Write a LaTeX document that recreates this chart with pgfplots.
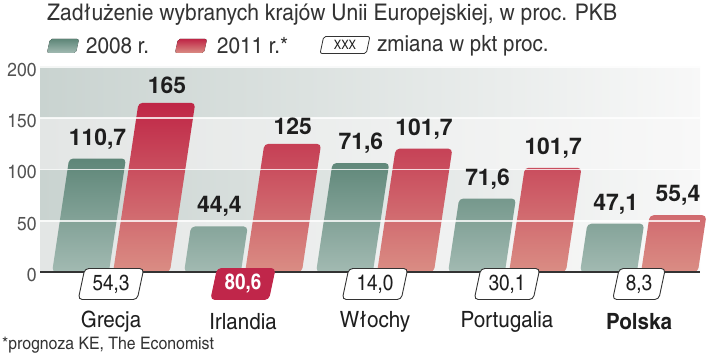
\documentclass[border=0pt]{standalone}
\usepackage{fontspec}
\setmainfont{texgyreheroscn}[Extension=.otf, UprightFont=*-regular, BoldFont=*-bold, FakeStretch=1.12]
\newfontfamily\hvc{texgyreheroscn}[Extension=.otf, UprightFont=*-regular, BoldFont=*-bold, FakeStretch=1.05]
\newfontfamily\hvb{texgyreheros}[Extension=.otf, UprightFont=*-bold, BoldFont=*-bold]
\usepackage{pgfplots}
\usepackage{pgfplotstable}
\pgfplotsset{compat=1.18}
\usetikzlibrary{shapes.geometric}
\definecolor{gtop}{HTML}{5E8678}
\definecolor{gbot}{HTML}{A2BAB2}
\definecolor{rtop}{HTML}{BF2646}
\definecolor{rbot}{HTML}{DA8D84}
\definecolor{band}{HTML}{C9D3D0}
\definecolor{bandl}{HTML}{E3E6E5}
\definecolor{bandr}{HTML}{F8F8F8}
\definecolor{txt}{HTML}{333333}
\definecolor{lab}{HTML}{1E1E1E}
\definecolor{redbox}{HTML}{C0264A}

\pgfplotstableread{
x y lab
0 110.7 110,7
1 44.4 44,4
2 106.3 71,6
3 71.6 71,6
4 47.1 47,1
}\greendata
\pgfplotstableread{
x y lab
0 165 165
1 125 125
2 120.3 101,7
3 101.7 101,7
4 55.4 55,4
}\reddata
\pgfplotstableread{
x y lab
0 0 54,3
2 0 14,0
3 0 30,1
4 0 8,3
}\chgdata
\pgfplotstableread{
x y lab
1 0 80,6
}\chgred

\begin{document}
\begin{tikzpicture}
\useasboundingbox (-40bp,-86bp) rectangle (681bp,272bp);
\begin{axis}[
  at={(0,0)}, anchor=south west,
  scale only axis, width=660bp, height=205bp,
  xmin=-0.538, xmax=4.462, ymin=0, ymax=200,
  axis on top,
  axis x line*=bottom, axis y line*=left,
  x axis line style={draw=txt, line width=1.8bp, -},
  y axis line style={draw=none},
  major tick length=0pt,
  /pgf/number format/assume math mode=true,
  xtick={0,1,2,3,4},
  xticklabels={Grecja, Irlandia, Włochy, Portugalia, \textbf{Polska}},
  xticklabel style={anchor=center, yshift=-50bp, font=\fontsize{22.5}{25}\selectfont, text=lab},
  ytick={0,50,100,150,200},
  yticklabel style={font=\fontsize{19}{21}\selectfont, text=txt!85, yshift=-3bp},
  ymajorgrids, grid style={draw=white, line width=1.6bp, opacity=0.8},
  clip=false,
]
\fill[left color=band, right color=bandr] (rel axis cs:0,0.75) rectangle (rel axis cs:1,1);
\fill[left color=bandl, right color=bandr] (rel axis cs:0,0.5) rectangle (rel axis cs:1,0.75);
\fill[left color=band, right color=bandr] (rel axis cs:0,0.25) rectangle (rel axis cs:1,0.5);
\fill[left color=bandl, right color=bandr] (rel axis cs:0,0) rectangle (rel axis cs:1,0.25);

\addplot[ybar, bar width=0.43, bar shift=-0.231, draw=none, top color=gtop, bottom color=gbot,
  xslant=0.15, rounded corners=4bp]
  table[x=x, y=y] {\greendata};
\addplot[ybar, bar width=0.43, bar shift=0.231, draw=none, top color=rtop, bottom color=rbot,
  xslant=0.15, rounded corners=4bp]
  table[x=x, y=y] {\reddata};

% value labels at the top centre of each slanted bar
\addplot[draw=none, mark=none, nodes near coords, point meta=explicit symbolic,
  visualization depends on={\thisrow{y} \as \rawy},
  nodes near coords style={font=\hvb\fontsize{23}{25}\selectfont, text=lab, anchor=south,
    yshift=6bp, xshift={0.154bp*\rawy}}]
  table[x expr=\thisrow{x}-0.231, y=y, meta=lab] {\greendata};
\addplot[draw=none, mark=none, nodes near coords, point meta=explicit symbolic,
  visualization depends on={\thisrow{y} \as \rawy},
  nodes near coords style={font=\hvb\fontsize{23}{25}\selectfont, text=lab, anchor=south,
    yshift=6bp, xshift={0.154bp*\rawy}}]
  table[x expr=\thisrow{x}+0.231, y=y, meta=lab] {\reddata};

\addplot[draw=none, mark=none, nodes near coords, point meta=explicit symbolic,
  nodes near coords style={shape=trapezium, trapezium left angle=78, trapezium right angle=102,
    draw=txt, line width=0.9bp, fill=white, rounded corners=4bp, anchor=center, yshift=-12bp,
    minimum height=31bp, minimum width=50bp, inner xsep=3bp, text=lab, font=\hvc\fontsize{22}{24}\selectfont}]
  table[x=x, y=y, meta=lab] {\chgdata};
\addplot[draw=none, mark=none, nodes near coords, point meta=explicit symbolic,
  nodes near coords style={shape=trapezium, trapezium left angle=78, trapezium right angle=102,
    draw=redbox, line width=0.9bp, fill=redbox, rounded corners=4bp, anchor=center, yshift=-12bp,
    minimum height=31bp, minimum width=50bp, inner xsep=3bp, text=white, font=\hvc\bfseries\fontsize{22}{24}\selectfont}]
  table[x=x, y=y, meta=lab] {\chgred};
\end{axis}
% title
\node[anchor=west, text=txt, font=\fontsize{23}{25}\selectfont, inner sep=0pt] at (7bp,257bp)
  {Zadłużenie wybranych krajów Unii Europejskiej, w proc. PKB};
% legend
\fill[top color=gtop, bottom color=gbot, rounded corners=2bp] (7bp,219bp) -- (36bp,219bp) -- (39bp,233bp) -- (10bp,233bp) -- cycle;
\node[anchor=west, text=txt, font=\fontsize{22.5}{25}\selectfont, inner sep=0pt] at (46bp,226bp) {2008 r.};
\fill[top color=rtop, bottom color=rbot, rounded corners=2bp] (135bp,219bp) -- (164bp,219bp) -- (167bp,233bp) -- (138bp,233bp) -- cycle;
\node[anchor=west, text=txt, font=\fontsize{22.5}{25}\selectfont, inner sep=0pt] at (177bp,226bp) {2011 r.*};
\node[shape=trapezium, trapezium left angle=78, trapezium right angle=102, draw=txt, line width=0.8bp,
  rounded corners=2bp, minimum height=17bp, inner xsep=3bp, inner ysep=1bp, text=lab,
  font=\hvc\fontsize{13}{14}\selectfont] at (305bp,227bp) {XXX};
\node[anchor=west, text=txt, font=\fontsize{22.5}{25}\selectfont, inner sep=0pt] at (337bp,226bp) {zmiana w pkt proc.};
% footnote
\node[anchor=west, text=txt, font=\fontsize{17.3}{20}\selectfont, inner sep=0pt] at (-38bp,-73bp)
  {*prognoza KE, The Economist};
\end{tikzpicture}
\end{document}
